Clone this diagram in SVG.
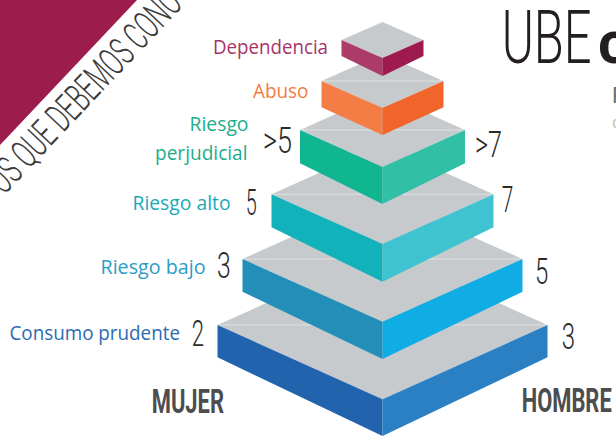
<svg xmlns="http://www.w3.org/2000/svg" width="616" height="436" viewBox="0 0 616 436">
<style>
.top{fill:#c6cacc}
.hl{stroke:#ffffff;stroke-opacity:0.45;stroke-width:1;fill:none}
.lbl{font-family:"Open Sans","Noto Sans","Liberation Sans",sans-serif;font-size:20px}
.num{font-family:Roboto,"Liberation Sans",sans-serif;font-weight:300;font-size:36px;fill:#2b2b2b}
.sex{font-family:Roboto,"Liberation Sans",sans-serif;font-weight:700;font-size:34px;fill:#4d4d4f}
</style>
<rect width="616" height="436" fill="#ffffff"/>
<g id="banner">
<polygon points="0,0 137,0 0,145" fill="#9c1c4c"/>
<text transform="translate(-5.4,205.6) rotate(-46.6)" font-family="Roboto,'Liberation Sans',sans-serif" font-weight="300" font-size="40" fill="#3a3a3a" textLength="276" lengthAdjust="spacingAndGlyphs">TOS QUE DEBEMOS CONO</text>
</g>
<g id="title">
<text x="501.7" y="63" font-family="Roboto,'Liberation Sans',sans-serif" font-weight="300" font-size="74" fill="#231f20" textLength="90" lengthAdjust="spacingAndGlyphs">UBE</text>
<text x="598" y="63" font-family="Roboto,'Liberation Sans',sans-serif" font-weight="700" font-size="60" fill="#231f20">c</text>
<text x="612" y="103" font-family="Roboto,'Liberation Sans',sans-serif" font-size="22" fill="#6d6e70">P</text>
<text x="612" y="128" font-family="Roboto,'Liberation Sans',sans-serif" font-size="16" fill="#c0c0c0">c</text>
</g>
<g id="consumo-prudente">
<polygon class="top" points="217.5,325 382.5,250.7 547.5,325 382.5,399.3"/>
<line class="hl" x1="217.5" y1="325" x2="547.5" y2="325"/>
<polygon fill="#2164ad" points="217.5,325 382.5,399.3 382.5,436 217.5,357.3"/>
<polygon fill="#2b80c4" points="382.5,399.3 547.5,325 547.5,357.3 382.5,436"/>
<text class="lbl" x="9.5" y="340" fill="#2a6bb3" textLength="170.5" lengthAdjust="spacingAndGlyphs">Consumo prudente</text>
<text class="num" x="191.7" y="346" textLength="12.3" lengthAdjust="spacingAndGlyphs">2</text>
<text class="num" x="561.7" y="349.3" textLength="13.3" lengthAdjust="spacingAndGlyphs">3</text>
</g>
<g id="riesgo-bajo">
<polygon class="top" points="242.5,259 382.5,196.3 522.5,259 382.5,321.7"/>
<line class="hl" x1="242.5" y1="259" x2="522.5" y2="259"/>
<polygon fill="#238fb8" points="242.5,259 382.5,321.7 382.5,359 242.5,291.7"/>
<polygon fill="#0fade3" points="382.5,321.7 522.5,259 522.5,291.7 382.5,359"/>
<text class="lbl" x="100.5" y="273.5" fill="#2a9cc7" textLength="105" lengthAdjust="spacingAndGlyphs">Riesgo bajo</text>
<text class="num" x="217" y="278.3" textLength="13.7" lengthAdjust="spacingAndGlyphs">3</text>
<text class="num" x="535" y="284" textLength="13.3" lengthAdjust="spacingAndGlyphs">5</text>
</g>
<g id="riesgo-alto">
<polygon class="top" points="271.5,194.3 382.5,144.6 493.5,194.3 382.5,244"/>
<line class="hl" x1="271.5" y1="194.3" x2="493.5" y2="194.3"/>
<polygon fill="#11b2ba" points="271.5,194.3 382.5,244 382.5,281.7 271.5,227.3"/>
<polygon fill="#40c3d0" points="382.5,244 493.5,194.3 493.5,227.3 382.5,281.7"/>
<text class="lbl" x="132.5" y="210" fill="#1aa9b8" textLength="98" lengthAdjust="spacingAndGlyphs">Riesgo alto</text>
<text class="num" x="245.7" y="215" textLength="11" lengthAdjust="spacingAndGlyphs">5</text>
<text class="num" x="501.7" y="211.7" textLength="11.6" lengthAdjust="spacingAndGlyphs">7</text>
</g>
<g id="riesgo-perjudicial">
<polygon class="top" points="300,130 382.5,93 465,130 382.5,167"/>
<line class="hl" x1="300" y1="130" x2="465" y2="130"/>
<polygon fill="#10b690" points="300,130 382.5,167 382.5,204 300,163.3"/>
<polygon fill="#31c0a6" points="382.5,167 465,130 465,163.3 382.5,204"/>
<text class="lbl" x="189.5" y="131" fill="#1aae8d" textLength="59" lengthAdjust="spacingAndGlyphs">Riesgo</text>
<text class="lbl" x="155" y="159.5" fill="#1aae8d" textLength="92.5" lengthAdjust="spacingAndGlyphs">perjudicial</text>
<text class="num" x="263" y="152.7" textLength="29" lengthAdjust="spacingAndGlyphs">&gt;5</text>
<text class="num" x="475" y="156.7" textLength="27" lengthAdjust="spacingAndGlyphs">&gt;7</text>
</g>
<g id="abuso">
<polygon class="top" points="321.5,81 382.5,54 443.5,81 382.5,108"/>
<line class="hl" x1="321.5" y1="81" x2="443.5" y2="81"/>
<polygon fill="#f47c45" points="321.5,81 382.5,108 382.5,135 321.5,107.3"/>
<polygon fill="#f2652a" points="382.5,108 443.5,81 443.5,107.3 382.5,135"/>
<text class="lbl" x="253" y="97.5" fill="#f37a3f" textLength="55.5" lengthAdjust="spacingAndGlyphs">Abuso</text>
</g>
<g id="dependencia">
<polygon class="top" points="341.5,40 382.5,22 423.5,40 382.5,58"/>
<polygon fill="#ad3b69" points="341.5,40 382.5,58 382.5,76 341.5,56"/>
<polygon fill="#9d1b4f" points="382.5,58 423.5,40 423.5,56 382.5,76"/>
<text class="lbl" x="213" y="53.5" fill="#a8326a" textLength="115" lengthAdjust="spacingAndGlyphs">Dependencia</text>
</g>
<g id="sexes">
<text class="sex" x="151.7" y="412.7" textLength="72.3" lengthAdjust="spacingAndGlyphs">MUJER</text>
<text class="sex" x="521.7" y="412.3" textLength="90" lengthAdjust="spacingAndGlyphs">HOMBRE</text>
</g>
</svg>
